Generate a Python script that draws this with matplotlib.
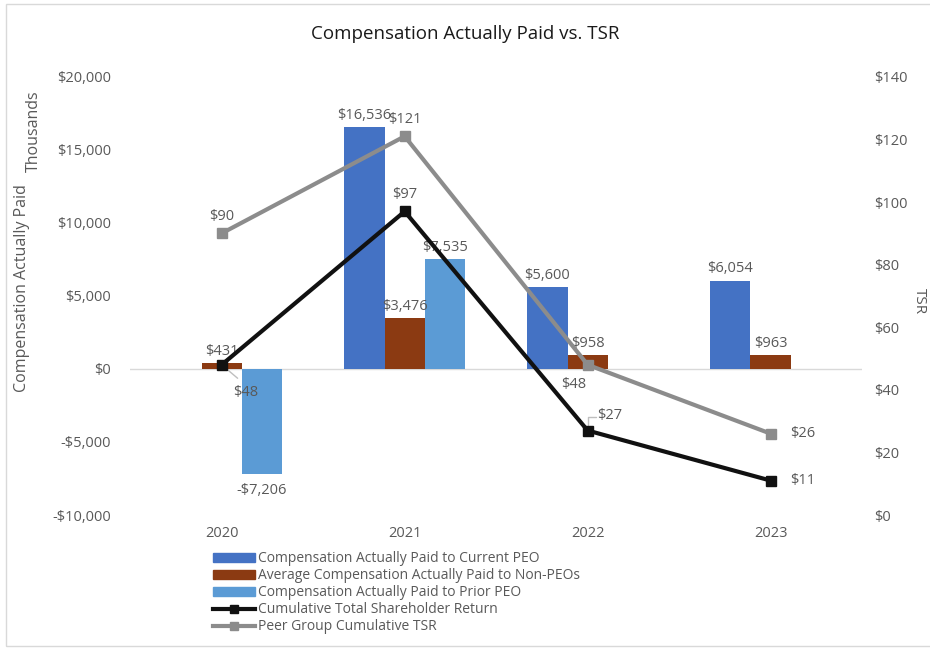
import matplotlib.pyplot as plt
import numpy as np
from matplotlib.lines import Line2D
from matplotlib.patches import Patch, Rectangle

plt.rcParams["font.family"] = ["Open Sans", "DejaVu Sans"]

years = ["2020", "2021", "2022", "2023"]
current_peo = [np.nan, 16536, 5600, 6054]
non_peo = [431, 3476, 958, 963]
prior_peo = [-7206, 7535, np.nan, np.nan]
tsr = [48, 97, 27, 11]
peer_tsr = [90, 121, 48, 26]

c_cur = "#4472C4"
c_non = "#8B3A12"
c_prior = "#5B9BD5"
c_tsr = "#111111"
c_peer = "#8C8C8C"
grey = "#595959"

fig = plt.figure(figsize=(9.3, 6.54), dpi=100)
ax = fig.add_axes([0.140, 0.2125, 0.787, 0.670])
ax2 = ax.twinx()

x = np.arange(len(years))
w = 0.22
ax.bar(x - w, current_peo, w, color=c_cur, zorder=2)
ax.bar(x, non_peo, w, color=c_non, zorder=2)
ax.bar(x + w, prior_peo, w, color=c_prior, zorder=2)
ax.axhline(0, color="#D9D9D9", lw=1, zorder=1)

ax.set_xlim(-0.5, 3.5)
ax.set_ylim(-10000, 20000)
ax.set_yticks(np.arange(-10000, 20001, 5000))
ax.set_yticklabels([f"${v:,}" if v >= 0 else f"-${-v:,}" for v in range(-10000, 20001, 5000)])
ax.set_xticks(x)
ax.set_xticklabels(years)

ax2.set_ylim(0, 140)
ax2.set_yticks(np.arange(0, 141, 20))
ax2.set_yticklabels([f"${v}" for v in range(0, 141, 20)])

for a in (ax, ax2):
    for s in a.spines.values():
        s.set_visible(False)
    a.tick_params(length=0, labelsize=10.5, colors=grey)
ax.tick_params(axis="y", pad=14)
ax.tick_params(axis="x", pad=8)
ax2.tick_params(axis="y", pad=9)

ax2.plot(x, peer_tsr, color=c_peer, lw=3, marker="s", ms=7, zorder=3)
ax2.plot(x, tsr, color=c_tsr, lw=3, marker="s", ms=7, zorder=4)

lab = dict(fontsize=10.5, color=grey, ha="center", va="bottom")


def money(v):
    return f"${v:,.0f}" if v >= 0 else f"-${-v:,.0f}"


for i, v in enumerate(current_peo):
    if not np.isnan(v):
        ax.annotate(money(v), (x[i] - w, v), xytext=(0, 3), textcoords="offset points", **lab)
for i, v in enumerate(non_peo):
    ax.annotate(money(v), (x[i], v), xytext=(0, 3), textcoords="offset points", **lab)
for i, v in enumerate(prior_peo):
    if not np.isnan(v):
        if v >= 0:
            ax.annotate(money(v), (x[i] + w, v), xytext=(0, 3), textcoords="offset points", **lab)
        else:
            ax.annotate(money(v), (x[i] + w, v), xytext=(0, -6), textcoords="offset points",
                        fontsize=10.5, color=grey, ha="center", va="top")

# TSR labels
tsr_off = [(17, -20, "center", "center"), (0, 7, "center", "bottom"),
           (16, 11, "center", "center"), (14, 0, "left", "center")]
for i, v in enumerate(tsr):
    dx, dy, ha, va = tsr_off[i]
    ax2.annotate(f"${v}", (x[i], v), xytext=(dx, dy), textcoords="offset points",
                 fontsize=10.5, color=grey, ha=ha, va=va, zorder=6)

# leader lines for the offset labels
ax2.annotate("", (x[0], tsr[0]), xytext=(13, -11), textcoords="offset points",
             arrowprops=dict(arrowstyle="-", color="#BFBFBF", lw=1))
ax2.annotate("", (x[2], tsr[2]), xytext=(6, 10), textcoords="offset points",
             arrowprops=dict(arrowstyle="-", color="#BFBFBF", lw=1, shrinkA=0, shrinkB=4,
                             connectionstyle="angle,angleA=180,angleB=90,rad=0"))

peer_off = [(0, 7, "center", "bottom"), (0, 7, "center", "bottom"),
            (-10, -14, "center", "center"), (14, 0, "left", "center")]
for i, v in enumerate(peer_tsr):
    dx, dy, ha, va = peer_off[i]
    ax2.annotate(f"${v}", (x[i], v), xytext=(dx, dy), textcoords="offset points",
                 fontsize=10.5, color=grey, ha=ha, va=va, zorder=6)

fig.text(0.5, 0.948, "Compensation Actually Paid vs. TSR", ha="center", va="center",
         fontsize=13.5, color="#1a1a1a")
fig.text(0.024, 0.56, "Compensation Actually Paid", rotation=90, ha="center", va="center",
         fontsize=11.5, color=grey)
fig.text(0.036, 0.80, "Thousands", rotation=90, ha="center", va="center",
         fontsize=11.5, color=grey)
fig.text(0.989, 0.54, "TSR", rotation=270, ha="center", va="center",
         fontsize=11, color=grey)

handles = [
    Patch(color=c_cur, label="Compensation Actually Paid to Current PEO"),
    Patch(color=c_non, label="Average Compensation Actually Paid to Non-PEOs"),
    Patch(color=c_prior, label="Compensation Actually Paid to Prior PEO"),
    Line2D([], [], color=c_tsr, lw=3, marker="s", ms=6, label="Cumulative Total Shareholder Return"),
    Line2D([], [], color=c_peer, lw=3, marker="s", ms=6, label="Peer Group Cumulative TSR"),
]
leg = fig.legend(handles=handles, loc="upper left", bbox_to_anchor=(0.222, 0.168),
                 frameon=False, fontsize=10, labelcolor=grey, handlelength=3.0,
                 handleheight=0.6, handletextpad=0.2, labelspacing=0.15, borderpad=0)

fig.patches.append(Rectangle((0.006, 0.012), 1.2, 0.982, transform=fig.transFigure,
                             fill=False, edgecolor="#D9D9D9", lw=1))

fig.savefig("out.png", dpi=100)
